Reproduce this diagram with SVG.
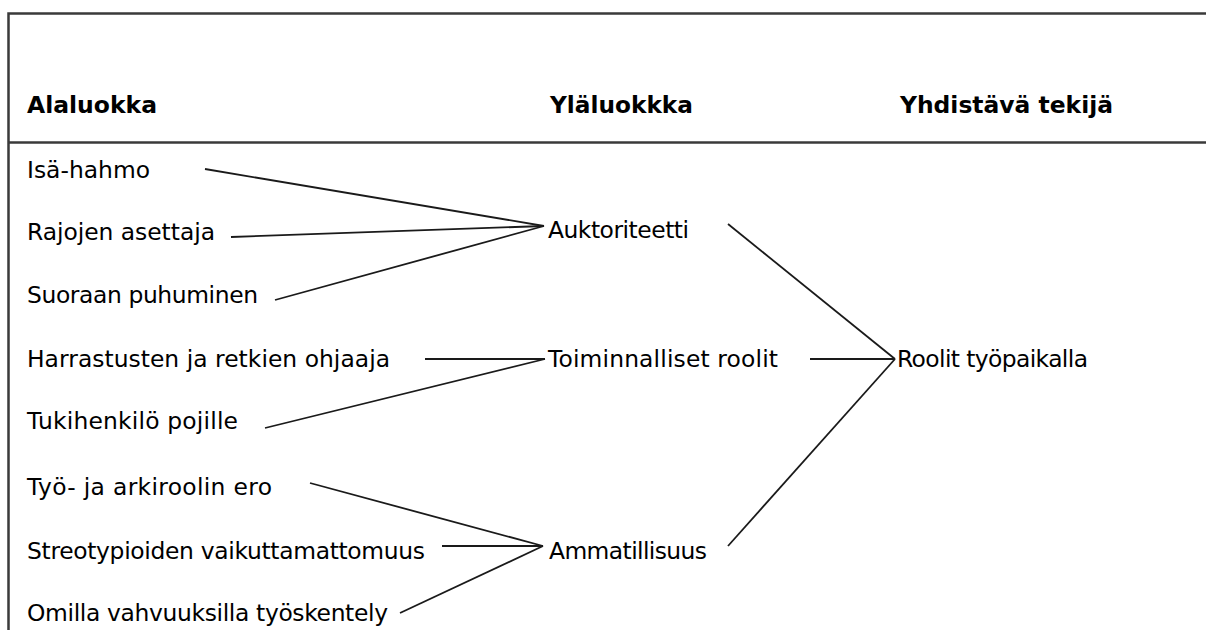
<svg xmlns="http://www.w3.org/2000/svg" width="1206" height="630" viewBox="0 0 1206 630">
<style>
text{font-family:"DejaVu Sans","Verdana",sans-serif;font-size:23.4px;fill:#000}
.h{font-weight:bold}
.frame{stroke:#3a3a3a;stroke-width:2.5;fill:none}
.c line{stroke:#1a1a1a;stroke-width:1.8}
</style>
<rect width="1206" height="630" fill="#fff"/>
<g id="frame">
<path class="frame" d="M1206 13.5 H8.5 V630"/>
<line class="frame" x1="8.5" y1="142.5" x2="1206" y2="142.5"/>
</g>
<g id="headers">
<text class="h" x="27" y="113" textLength="130" lengthAdjust="spacingAndGlyphs">Alaluokka</text>
<text class="h" x="550" y="113" textLength="143" lengthAdjust="spacingAndGlyphs">Yläluokkka</text>
<text class="h" x="900" y="113" textLength="213" lengthAdjust="spacingAndGlyphs">Yhdistävä tekijä</text>
</g>
<g id="n-isa"><text x="27" y="178" textLength="123">Isä-hahmo</text></g>
<g id="n-rajojen"><text x="27" y="240" textLength="188">Rajojen asettaja</text></g>
<g id="n-suoraan"><text x="27" y="303" textLength="231">Suoraan puhuminen</text></g>
<g id="n-harrastusten"><text x="27" y="367" textLength="363">Harrastusten ja retkien ohjaaja</text></g>
<g id="n-tukihenkilo"><text x="27" y="429" textLength="211">Tukihenkilö pojille</text></g>
<g id="n-tyo"><text x="27" y="495" textLength="245">Työ- ja arkiroolin ero</text></g>
<g id="n-streotypioiden"><text x="27" y="559" textLength="398">Streotypioiden vaikuttamattomuus</text></g>
<g id="n-omilla"><text x="27" y="621" textLength="361">Omilla vahvuuksilla työskentely</text></g>
<g id="n-auktoriteetti"><text x="548" y="238" textLength="141">Auktoriteetti</text></g>
<g id="n-toiminnalliset"><text x="548" y="367" textLength="230">Toiminnalliset roolit</text></g>
<g id="n-ammatillisuus"><text x="549" y="559" textLength="158">Ammatillisuus</text></g>
<g id="n-roolit"><text x="897" y="367" textLength="191">Roolit työpaikalla</text></g>
<g id="connectors" class="c">
<line x1="205" y1="169" x2="544" y2="226"/>
<line x1="231" y1="237" x2="544" y2="226"/>
<line x1="275" y1="300" x2="544" y2="226"/>
<line x1="425" y1="359" x2="545" y2="359"/>
<line x1="265" y1="428" x2="545" y2="359"/>
<line x1="310" y1="483" x2="543" y2="546"/>
<line x1="442" y1="546" x2="543" y2="546"/>
<line x1="400" y1="613" x2="543" y2="546"/>
<line x1="728" y1="224" x2="895" y2="359"/>
<line x1="810" y1="359" x2="895" y2="359"/>
<line x1="728" y1="546" x2="895" y2="359"/>
</g>
</svg>
